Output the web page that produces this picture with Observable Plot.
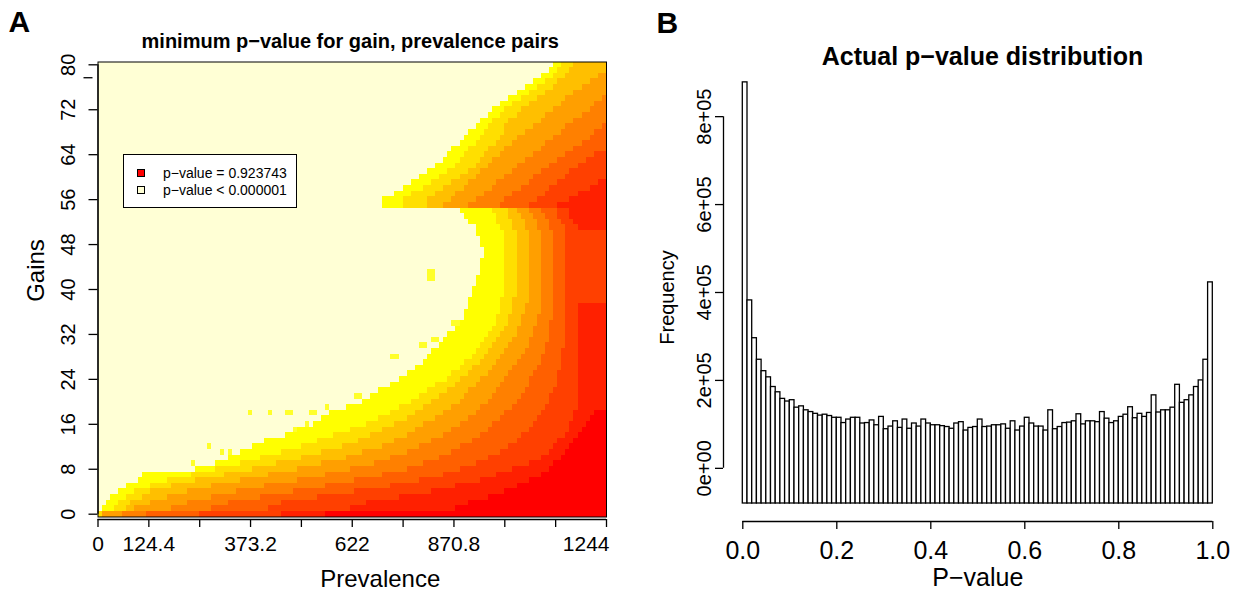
<!DOCTYPE html>
<html><head><meta charset="utf-8">
<script src="https://cdn.jsdelivr.net/npm/d3@7"></script>
<script src="https://cdn.jsdelivr.net/npm/@observablehq/plot@0.6"></script>
<style>
body{margin:0;background:#fff;font-family:"Liberation Sans",Arial,Helvetica,sans-serif;}
#wrap{position:relative;width:1237px;height:598px;overflow:hidden;background:#fff;}
.panel{position:absolute;top:0;}
.panel svg{overflow:visible;}
.lg{position:absolute;white-space:nowrap;font-size:14px;line-height:14px;color:#000;}
</style></head><body><div id="wrap"></div>
<script>
// ---------- Panel A data: heat map of minimum p-value (gain x prevalence) ----------
const heatColors = ["#FFFFD5","#FFFF80","#FFFF2A","#FFFF00","#FFDF00","#FFBF00","#FF9F00","#FF8000","#FF6000","#FF4000","#FF2000","#FF0000"];
const prevalenceMax = 1244;
const gainMax = 80;
const nPrevCells = 125;
// For each gain (index 0..80): prevalence cell index where the colour level starts
const edgeL3 = [0,1,2,3,5,7,10,11,24,29, 32,35,38,41,46,49,53,55,57,61, 65,67,69,72,74,76,78,80,81,82, 84,85,86,88,89,90,90,91,91,92, 92,93,93,94,94,94,95,95,94,94, 93,93,91,90,89, 70,70,73,75,77, 79,81,83,85,86,87,89,90,91,93, 94,96,97,99,101,103,105,107,109,111,112];
const edgeL4 = [0,4,5,7,9,13,17,23,29,35, 40,45,50,54,58,62,66,69,72,74, 77,79,81,83,86,87,89,90,92,93, 94,95,96,97,98,98,99,99,99,100, 100,100,100,100,100,100,100,100,100,100, 100,99,98,98,97, 75,75,77,80,82, 84,86,88,89,90,91,93,94,95,96, 97,99,100,102,104,106,108,110,112,113,114];
const edgeL5 = [1,7,8,11,13,18,24,31,38,44, 50,55,60,64,67,70,73,76,78,80, 82,84,86,88,89,91,92,94,95,96, 97,98,99,100,101,101,102,102,102,103, 103,103,103,103,103,103,103,103,103,103, 103,102,102,101,101, 81,81,83,85,87, 89,91,93,94,95,96,98,99,100,100, 101,103,104,106,108,110,112,113,115,116,117];
const edgeL6 = [1,9,13,17,22,28,35,42,49,55, 61,65,70,73,76,78,80,83,85,87, 89,90,91,93,94,96,97,98,99,100, 101,102,103,103,104,104,105,105,106,106, 106,106,106,106,106,106,106,106,106,106, 106,105,105,104,103, 85,87,88,90,91, 93,94,96,97,99,100,102,103,105,107, 109,110,112,114,115,117,119,121,123,125,125];
const edgeL7 = [6,18,22,28,34,41,49,56,62,68, 72,76,79,82,85,87,89,91,93,94, 96,97,98,99,100,101,102,103,104,105, 106,106,107,107,108,108,109,109,109,109, 109,109,109,109,109,109,109,109,109,109, 109,108,108,107,106, 91,93,95,97,98, 100,102,103,105,107,109,110,112,114,115, 117,119,121,122,124,125,125,125,125,125,125];
const edgeL8 = [12,28,32,40,48,56,63,70,76,80, 84,87,89,92,94,96,97,99,100,102, 103,104,105,106,106,107,108,109,109,110, 110,111,111,111,111,112,112,112,112,112, 112,112,112,112,112,112,112,112,112,112, 112,111,111,110,109, 99,100,102,104,106, 107,109,111,113,115,117,119,121,122,124, 125,125,125,125,125,125,125,125,125,125,125];
const edgeL9 = [25,42,45,54,63,72,79,85,89,93, 96,99,101,103,104,106,107,108,109,110, 111,111,112,113,113,113,114,114,114,114, 115,115,115,115,115,115,115,115,115,115, 115,115,115,115,115,115,115,115,115,115, 115,115,114,113,113, 106,108,110,111,113, 115,116,118,120,122,125,125,125,125,125, 125,125,125,125,125,125,125,125,125,125,125];
const edgeL10 = [45,62,66,74,82,88,94,98,102,106, 109,111,112,113,115,116,116,117,117,118, 118,118,118,118,118,118,118,118,118,118, 118,118,118,118,118,118,118,118,125,125, 125,125,125,125,125,125,125,125,125,125, 125,118,117,116,116, 113,116,118,121,123, 125,125,125,125,125,125,125,125,125,125, 125,125,125,125,125,125,125,125,125,125,125];
const edgeL11 = [56,88,91,96,100,103,106,109,111,112, 114,115,116,117,118,119,120,121,122,125, 125,125,125,125,125,125,125,125,125,125, 125,125,125,125,125,125,125,125,125,125, 125,125,125,125,125,125,125,125,125,125, 125,125,125,125,125, 125,125,125,125,125, 125,125,125,125,125,125,125,125,125,125, 125,125,125,125,125,125,125,125,125,125,125];
// isolated light-yellow cells inside the pale area: [gain, prevalence cell]
const scatterCells = [[18,37],[18,42],[18,46],[18,47],[18,52],[18,53],[21,63],[21,64],[19,56],[15,48],[16,51],[12,27],[11,30],[11,32],[9,23],[42,81],[42,82],[43,81],[43,82],[28,72],[28,73],[30,79],[30,80],[31,82],[31,83],[34,87],[34,88]];
const xTicksA = [0,124.4,248.8,373.2,497.6,622,746.4,870.8,995.2,1119.6,1244];
const xTickLabelsA = ["0","124.4","","373.2","","622","","870.8","","","1244"];
const yTicksA = [0,8,16,24,32,40,48,56,64,72,80];
const yStrayTick = [77.7];
const legendLabels = ["p\u2212value = 0.923743","p\u2212value < 0.000001"];
const legendColors = ["#FF0000","#FFFFD5"];

// ---------- Panel B data: histogram of p-values (100 bins of width 0.01) ----------
const pvalueCounts = [878000,382000,296000,247000,221000,207000,185000,173000,158000,152000,
 155000,138000,141000,132000,128000,124000,120000,122000,119000,115000,
 115000,103000,111000,115000,115000,102000,103000,109000,98000,117000,
 89000,95000,107000,92000,111000,90000,102000,95000,111000,102000,
 98000,98000,96000,94000,90000,102000,105000,86000,92000,94000,
 111000,94000,95000,98000,98000,100000,90000,107000,86000,95000,
 115000,102000,95000,95000,86000,132000,89000,94000,103000,104000,
 107000,123000,100000,107000,107000,105000,128000,113000,103000,107000,
 117000,122000,139000,114000,124000,117000,126000,166000,127000,132000,
 132000,138000,190000,149000,155000,166000,185000,200000,247000,423000];
const xTicksB = [0,0.2,0.4,0.6,0.8,1.0];
const xTickLabelsB = ["0.0","0.2","0.4","0.6","0.8","1.0"];
const yTicksB = [0,200000,400000,600000,800000];
const yTickLabelsB = ["0e+00","2e+05","4e+05","6e+05","8e+05"];

// ---------- build ----------
const FONT = '"Liberation Sans", Arial, Helvetica, sans-serif';
const cellW = prevalenceMax / nPrevCells;
const edgeArrays = [edgeL3,edgeL4,edgeL5,edgeL6,edgeL7,edgeL8,edgeL9,edgeL10,edgeL11];
const levelIds = [0,3,4,5,6,7,8,9,10,11];
const cells = [];
for (let g = 0; g <= gainMax; g++) {
  const starts = [0, ...edgeArrays.map(a => a[g])];
  for (let k = 0; k < starts.length; k++) {
    const s = starts[k];
    const e = k + 1 < starts.length ? starts[k + 1] : nPrevCells;
    if (e > s) cells.push({x1: s * cellW, x2: e * cellW, y1: g - 0.5, y2: g + 0.5, fill: heatColors[levelIds[k]]});
  }
}
for (const [g, c] of scatterCells) cells.push({x1: c * cellW, x2: (c + 1) * cellW, y1: g - 0.5, y2: g + 0.5, fill: heatColors[2]});

const lastA = xTicksA.length - 1;
const plotA = Plot.plot({
  width: 620, height: 598,
  marginLeft: 97.5, marginRight: 14, marginTop: 61.5, marginBottom: 81.5,
  x: {domain: [0, prevalenceMax], axis: null},
  y: {domain: [-0.5, gainMax + 0.5], axis: null},
  color: {type: "identity"},
  style: {fontFamily: FONT, background: "transparent", color: "#000", overflow: "visible"},
  marks: [
    Plot.rect(cells, {x1: "x1", x2: "x2", y1: "y1", y2: "y2", fill: "fill", shapeRendering: "crispEdges"}),
    Plot.frame({stroke: "#000", strokeWidth: 1}),
    Plot.ruleY([-0.5], {x1: 0, x2: prevalenceMax, dy: 2.5, stroke: "#000", strokeWidth: 1.3}),
    Plot.axisX(xTicksA, {tickSize: 8, dy: 2.5, tickFormat: () => "", label: null, strokeWidth: 1.3}),
    Plot.text(xTicksA.slice(0, lastA), {x: d => d, text: (d, i) => xTickLabelsA[i], frameAnchor: "bottom", dy: 33.5, lineAnchor: "bottom", textAnchor: "middle", fontSize: 21}),
    Plot.text([xTicksA[lastA]], {x: d => d, text: () => xTickLabelsA[lastA], frameAnchor: "bottom", dy: 33.5, dx: 3, lineAnchor: "bottom", textAnchor: "end", fontSize: 21}),
    Plot.ruleX([0], {y1: 0, y2: gainMax, stroke: "#000", strokeWidth: 1.3}),
    Plot.axisY(yTicksA, {anchor: "left", tickSize: 9, tickFormat: () => "", label: null, strokeWidth: 1.3}),
    Plot.axisY(yStrayTick, {anchor: "left", tickSize: 9, dx: -5, tickFormat: () => "", label: null, strokeWidth: 1.3}),
    Plot.text(yTicksA, {y: d => d, text: d => String(d), frameAnchor: "left", dx: -23, rotate: -90, textAnchor: "middle", lineAnchor: "bottom", fontSize: 20}),
    Plot.text(["Prevalence"], {frameAnchor: "bottom", dx: 28, dy: 69.5, lineAnchor: "bottom", textAnchor: "middle", fontSize: 24}),
    Plot.text(["Gains"], {frameAnchor: "left", dx: -54.5, dy: -19, rotate: -90, textAnchor: "middle", lineAnchor: "bottom", fontSize: 24}),
    Plot.text(["minimum p\u2212value for gain, prevalence pairs"], {frameAnchor: "top", dx: -2, dy: -14.5, lineAnchor: "bottom", textAnchor: "middle", fontSize: 20, fontWeight: "bold"}),
    Plot.text(["A"], {frameAnchor: "top-left", dx: -89.5, dy: -30, textAnchor: "start", lineAnchor: "bottom", fontSize: 30, fontWeight: "bold"})
  ]
});

const histYDomain = [-80000, 905000];
const pBins = pvalueCounts.map((v, i) => ({x1: i / 100, x2: (i + 1) / 100, y1: histYDomain[0], y2: v}));

const plotB = Plot.plot({
  width: 617, height: 598,
  marginLeft: 122.3, marginRight: 24.7, marginTop: 70, marginBottom: 95,
  x: {domain: [0, 1], axis: null},
  y: {domain: histYDomain, axis: null},
  style: {fontFamily: FONT, background: "transparent", color: "#000", overflow: "visible"},
  marks: [
    Plot.rect(pBins, {x1: "x1", x2: "x2", y1: "y1", y2: "y2", fill: "#fff", stroke: "#000", strokeWidth: 1.3}),
    Plot.ruleY([histYDomain[0]], {x1: 0, x2: 1, dy: 18, stroke: "#000", strokeWidth: 1.3}),
    Plot.axisX(xTicksB, {tickSize: 8, dy: 18, tickFormat: () => "", label: null, strokeWidth: 1.3}),
    Plot.text(xTicksB, {x: d => d, text: (d, i) => xTickLabelsB[i], frameAnchor: "bottom", dy: 55, lineAnchor: "bottom", textAnchor: "middle", fontSize: 25}),
    Plot.ruleX([0], {y1: 0, y2: 800000, dx: -19.3, stroke: "#000", strokeWidth: 1.3}),
    Plot.axisY(yTicksB, {anchor: "left", tickSize: 8, dx: -19.3, tickFormat: () => "", label: null, strokeWidth: 1.3}),
    Plot.text(yTicksB, {y: d => d, text: (d, i) => yTickLabelsB[i], frameAnchor: "left", dx: -32, rotate: -90, textAnchor: "middle", lineAnchor: "bottom", fontSize: 20}),
    Plot.text(["Frequency"], {frameAnchor: "left", dx: -69.3, dy: 10.5, rotate: -90, textAnchor: "middle", lineAnchor: "bottom", fontSize: 20}),
    Plot.text(["P\u2212value"], {frameAnchor: "bottom", dy: 82, lineAnchor: "bottom", textAnchor: "middle", fontSize: 25}),
    Plot.text(["Actual p\u2212value distribution"], {frameAnchor: "top", dx: 4.7, dy: -6, lineAnchor: "bottom", textAnchor: "middle", fontSize: 25, fontWeight: "bold"}),
    Plot.text(["B"], {frameAnchor: "top-left", dx: -86.3, dy: -38, textAnchor: "start", lineAnchor: "bottom", fontSize: 30, fontWeight: "bold"})
  ]
});

const wrap = document.getElementById("wrap");
const pb = document.createElement("div"); pb.className = "panel"; pb.style.left = "620px"; pb.style.width = "617px"; pb.appendChild(plotB); wrap.appendChild(pb);
const pa = document.createElement("div"); pa.className = "panel"; pa.style.left = "0px"; pa.style.width = "620px"; pa.appendChild(plotA); wrap.appendChild(pa);

// legend box (panel A)
const box = document.createElement("div");
box.style.cssText = "position:absolute;left:123px;top:154px;width:174px;height:54px;box-sizing:border-box;border:1px solid #000;background:#fff;";
wrap.appendChild(box);
legendLabels.forEach((lab, i) => {
  const sq = document.createElement("div");
  sq.style.cssText = `position:absolute;left:137px;top:${169 + i * 17}px;width:8px;height:8px;box-sizing:border-box;border:1px solid #000;background:${legendColors[i]};`;
  wrap.appendChild(sq);
  const t = document.createElement("div");
  t.className = "lg";
  t.textContent = lab;
  t.style.left = "163px";
  t.style.top = (177.5 + i * 17 - 0.8465 * 14) + "px";
  wrap.appendChild(t);
});
</script></body></html>
